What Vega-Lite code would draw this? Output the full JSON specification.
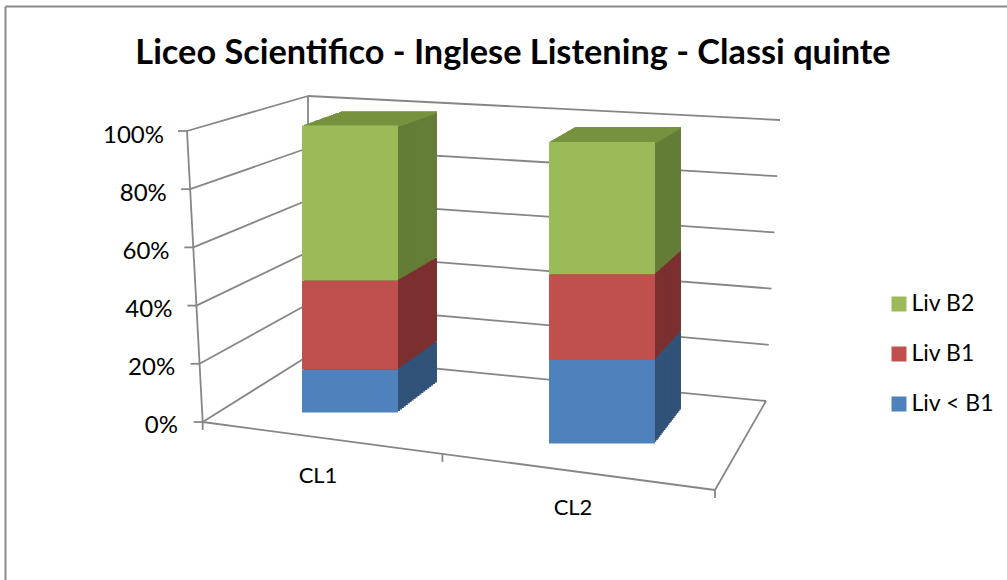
{"$schema":"https://vega.github.io/schema/vega-lite/v6.json","width":1002,"height":574,"padding":{"left":5.5,"top":6.5,"right":0,"bottom":0},"autosize":"none","background":"white","config":{"view":{"stroke":null},"font":"Lato"},
"title":{"text":"Liceo Scientifico - Inglese Listening - Classi quinte","font":"Lato","fontSize":34.3,"fontWeight":"bold","color":"#000000","anchor":"middle","dx":6.5,"offset":-65.5},
"datasets":{"valori":[{"classe":"CL1","livello":"Liv < B1","valore":15},{"classe":"CL1","livello":"Liv B1","valore":31},{"classe":"CL1","livello":"Liv B2","valore":54},{"classe":"CL2","livello":"Liv < B1","valore":27.7},{"classe":"CL2","livello":"Liv B1","valore":28.4},{"classe":"CL2","livello":"Liv B2","valore":43.9}],"griglia":[{"tick":0},{"tick":20},{"tick":40},{"tick":60},{"tick":80},{"tick":100}]},
"resolve":{"scale":{"x":"independent"}},
"layer":[
{"data":{"values":[{"p":1}]},"mark":{"type":"rule","color":"#8a8a8a","strokeWidth":2},"encoding":{"x":{"datum":0,"type":"quantitative","scale":{"domain":[0,1],"range":[0,1002]},"axis":null}}},
{"data":{"values":[{"p":1}]},"mark":{"type":"rule","color":"#8a8a8a","strokeWidth":2,"yOffset":-124.5,"y2Offset":-124.5},"encoding":{"x":{"datum":0,"type":"quantitative","scale":{"domain":[0,1],"range":[0,1002]},"axis":null},"x2":{"datum":1},"y":{"datum":100,"type":"quantitative","title":null,"scale":{"domain":[0,100],"range":[415.5,124.5]}},"y2":{"datum":100}}},
{"data":{"name":"griglia"},"mark":{"type":"rule","color":"#868686","strokeWidth":1.8,"xOffset":{"expr":"0.157*(100-datum.tick)"},"y2Offset":{"expr":"-35-0.31*(100-datum.tick)"}},"encoding":{"x":{"datum":0,"type":"quantitative","scale":{"domain":[0,1],"range":[181.5,302.5]},"axis":null},"x2":{"datum":1},"y":{"field":"tick","type":"quantitative","title":null,"scale":{"domain":[0,100],"range":[415.5,124.5]},"axis":{"title":null,"values":[0,20,40,60,80,100],"orient":"left","offset":-172,"domain":false,"ticks":false,"grid":false,"labelPadding":{"expr":"0.14*datum.value"},"labelOffset":{"expr":"3.5+0.01*datum.value"},"labelFont":"Lato","labelFontSize":24,"labelColor":"#000000","labelBaseline":"middle","labelExpr":"datum.value+'%'"}},"y2":{"field":"tick"}}},
{"data":{"name":"griglia"},"mark":{"type":"rule","color":"#868686","strokeWidth":1.8,"yOffset":{"expr":"-35-0.31*(100-datum.tick)"},"x2Offset":{"expr":"-0.14*(100-datum.tick)"},"y2Offset":{"expr":"-11-0.1*(100-datum.tick)"}},"encoding":{"x":{"datum":0,"type":"quantitative","scale":{"domain":[0,1],"range":[302.5,774.5]},"axis":null},"x2":{"datum":1},"y":{"field":"tick","type":"quantitative","title":null},"y2":{"field":"tick"}}},
{"data":{"name":"griglia"},"mark":{"type":"rule","color":"#868686","strokeWidth":1.8,"xOffset":{"expr":"0.157*(100-datum.tick)"},"x2Offset":{"expr":"0.157*(100-datum.tick)-9"}},"encoding":{"x":{"datum":0,"type":"quantitative","scale":{"domain":[0,1],"range":[181.5,302.5]},"axis":null},"x2":{"datum":0},"y":{"field":"tick","type":"quantitative","title":null},"y2":{"field":"tick"}}},
{"data":{"values":[{"p":1}]},"mark":{"type":"rule","color":"#868686","strokeWidth":1.8,"x2Offset":15.7},"encoding":{"x":{"datum":0,"type":"quantitative","scale":{"domain":[0,1],"range":[181.5,302.5]},"axis":null},"x2":{"datum":0},"y":{"datum":100,"type":"quantitative","title":null},"y2":{"datum":0}}},
{"data":{"values":[{"p":1}]},"mark":{"type":"rule","color":"#868686","strokeWidth":1.8,"yOffset":-35,"y2Offset":-66},"encoding":{"x":{"datum":0,"type":"quantitative","scale":{"domain":[0,1],"range":[302.5,774.5]},"axis":null},"x2":{"datum":0},"y":{"datum":100,"type":"quantitative","title":null},"y2":{"datum":0}}},
{"data":{"values":[{"p":1}]},"mark":{"type":"rule","color":"#868686","strokeWidth":1.8,"y2Offset":68},"encoding":{"x":{"datum":0,"type":"quantitative","scale":{"domain":[0,1],"range":[197.2,709.5]},"axis":null},"x2":{"datum":1},"y":{"datum":0,"type":"quantitative","title":null},"y2":{"datum":0}}},
{"data":{"values":[{"p":1}]},"mark":{"type":"rule","color":"#868686","strokeWidth":1.8,"yOffset":68,"y2Offset":-21},"encoding":{"x":{"datum":0,"type":"quantitative","scale":{"domain":[0,1],"range":[709.5,760.5]},"axis":null},"x2":{"datum":1},"y":{"datum":0,"type":"quantitative","title":null},"y2":{"datum":0}}},
{"data":{"values":[{"p":0},{"p":0.468},{"p":1}]},"mark":{"type":"rule","color":"#868686","strokeWidth":1.8,"yOffset":{"expr":"68*datum.p"},"y2Offset":{"expr":"68*datum.p+8"}},"encoding":{"x":{"field":"p","type":"quantitative","scale":{"domain":[0,1],"range":[197.2,709.5]},"axis":null},"x2":{"field":"p"},"y":{"datum":0,"type":"quantitative","title":null},"y2":{"datum":0}}},
{"data":{"name":"valori"},"transform":[{"stack":"valore","groupby":["classe"],"sort":[{"field":"livello","order":"ascending"}],"as":["y0","y1"]}],
"encoding":{"x":{"field":"classe","type":"nominal","scale":{"domain":["CL1","CL2"],"range":[218.5,722.5]},"axis":null},"size":{"field":"classe","type":"ordinal","scale":{"domain":["CL1","CL2"],"range":[96,106]},"legend":null},"y":{"field":"y1","type":"quantitative","title":null},"y2":{"field":"y0"},"fill":{"field":"livello","type":"nominal","scale":{"domain":["Liv < B1","Liv B1","Liv B2"],"range":["#315379","#7b302f","#647d37"]},"legend":null}},
"layer":[
{"mark":{"type":"bar","xOffset":{"expr":"1*(datum.classe=='CL1'?39:26)"},"yOffset":{"expr":"datum.classe=='CL1'?-9.5+0.04*datum.y1-1*(30-0.16*datum.y1):21.5-0.105*datum.y1-1*(34-0.19*datum.y1)"},"y2Offset":{"expr":"datum.classe=='CL1'?-9.5+0.04*datum.y0-1*(30-0.16*datum.y0):21.5-0.105*datum.y0-1*(34-0.19*datum.y0)"}}},
{"mark":{"type":"bar","xOffset":{"expr":"0.95*(datum.classe=='CL1'?39:26)"},"yOffset":{"expr":"datum.classe=='CL1'?-9.5+0.04*datum.y1-0.95*(30-0.16*datum.y1):21.5-0.105*datum.y1-0.95*(34-0.19*datum.y1)"},"y2Offset":{"expr":"datum.classe=='CL1'?-9.5+0.04*datum.y0-0.95*(30-0.16*datum.y0):21.5-0.105*datum.y0-0.95*(34-0.19*datum.y0)"}}},
{"mark":{"type":"bar","xOffset":{"expr":"0.9*(datum.classe=='CL1'?39:26)"},"yOffset":{"expr":"datum.classe=='CL1'?-9.5+0.04*datum.y1-0.9*(30-0.16*datum.y1):21.5-0.105*datum.y1-0.9*(34-0.19*datum.y1)"},"y2Offset":{"expr":"datum.classe=='CL1'?-9.5+0.04*datum.y0-0.9*(30-0.16*datum.y0):21.5-0.105*datum.y0-0.9*(34-0.19*datum.y0)"}}},
{"mark":{"type":"bar","xOffset":{"expr":"0.85*(datum.classe=='CL1'?39:26)"},"yOffset":{"expr":"datum.classe=='CL1'?-9.5+0.04*datum.y1-0.85*(30-0.16*datum.y1):21.5-0.105*datum.y1-0.85*(34-0.19*datum.y1)"},"y2Offset":{"expr":"datum.classe=='CL1'?-9.5+0.04*datum.y0-0.85*(30-0.16*datum.y0):21.5-0.105*datum.y0-0.85*(34-0.19*datum.y0)"}}},
{"mark":{"type":"bar","xOffset":{"expr":"0.8*(datum.classe=='CL1'?39:26)"},"yOffset":{"expr":"datum.classe=='CL1'?-9.5+0.04*datum.y1-0.8*(30-0.16*datum.y1):21.5-0.105*datum.y1-0.8*(34-0.19*datum.y1)"},"y2Offset":{"expr":"datum.classe=='CL1'?-9.5+0.04*datum.y0-0.8*(30-0.16*datum.y0):21.5-0.105*datum.y0-0.8*(34-0.19*datum.y0)"}}},
{"mark":{"type":"bar","xOffset":{"expr":"0.75*(datum.classe=='CL1'?39:26)"},"yOffset":{"expr":"datum.classe=='CL1'?-9.5+0.04*datum.y1-0.75*(30-0.16*datum.y1):21.5-0.105*datum.y1-0.75*(34-0.19*datum.y1)"},"y2Offset":{"expr":"datum.classe=='CL1'?-9.5+0.04*datum.y0-0.75*(30-0.16*datum.y0):21.5-0.105*datum.y0-0.75*(34-0.19*datum.y0)"}}},
{"mark":{"type":"bar","xOffset":{"expr":"0.7*(datum.classe=='CL1'?39:26)"},"yOffset":{"expr":"datum.classe=='CL1'?-9.5+0.04*datum.y1-0.7*(30-0.16*datum.y1):21.5-0.105*datum.y1-0.7*(34-0.19*datum.y1)"},"y2Offset":{"expr":"datum.classe=='CL1'?-9.5+0.04*datum.y0-0.7*(30-0.16*datum.y0):21.5-0.105*datum.y0-0.7*(34-0.19*datum.y0)"}}},
{"mark":{"type":"bar","xOffset":{"expr":"0.65*(datum.classe=='CL1'?39:26)"},"yOffset":{"expr":"datum.classe=='CL1'?-9.5+0.04*datum.y1-0.65*(30-0.16*datum.y1):21.5-0.105*datum.y1-0.65*(34-0.19*datum.y1)"},"y2Offset":{"expr":"datum.classe=='CL1'?-9.5+0.04*datum.y0-0.65*(30-0.16*datum.y0):21.5-0.105*datum.y0-0.65*(34-0.19*datum.y0)"}}},
{"mark":{"type":"bar","xOffset":{"expr":"0.6*(datum.classe=='CL1'?39:26)"},"yOffset":{"expr":"datum.classe=='CL1'?-9.5+0.04*datum.y1-0.6*(30-0.16*datum.y1):21.5-0.105*datum.y1-0.6*(34-0.19*datum.y1)"},"y2Offset":{"expr":"datum.classe=='CL1'?-9.5+0.04*datum.y0-0.6*(30-0.16*datum.y0):21.5-0.105*datum.y0-0.6*(34-0.19*datum.y0)"}}},
{"mark":{"type":"bar","xOffset":{"expr":"0.55*(datum.classe=='CL1'?39:26)"},"yOffset":{"expr":"datum.classe=='CL1'?-9.5+0.04*datum.y1-0.55*(30-0.16*datum.y1):21.5-0.105*datum.y1-0.55*(34-0.19*datum.y1)"},"y2Offset":{"expr":"datum.classe=='CL1'?-9.5+0.04*datum.y0-0.55*(30-0.16*datum.y0):21.5-0.105*datum.y0-0.55*(34-0.19*datum.y0)"}}},
{"mark":{"type":"bar","xOffset":{"expr":"0.5*(datum.classe=='CL1'?39:26)"},"yOffset":{"expr":"datum.classe=='CL1'?-9.5+0.04*datum.y1-0.5*(30-0.16*datum.y1):21.5-0.105*datum.y1-0.5*(34-0.19*datum.y1)"},"y2Offset":{"expr":"datum.classe=='CL1'?-9.5+0.04*datum.y0-0.5*(30-0.16*datum.y0):21.5-0.105*datum.y0-0.5*(34-0.19*datum.y0)"}}},
{"mark":{"type":"bar","xOffset":{"expr":"0.45*(datum.classe=='CL1'?39:26)"},"yOffset":{"expr":"datum.classe=='CL1'?-9.5+0.04*datum.y1-0.45*(30-0.16*datum.y1):21.5-0.105*datum.y1-0.45*(34-0.19*datum.y1)"},"y2Offset":{"expr":"datum.classe=='CL1'?-9.5+0.04*datum.y0-0.45*(30-0.16*datum.y0):21.5-0.105*datum.y0-0.45*(34-0.19*datum.y0)"}}},
{"mark":{"type":"bar","xOffset":{"expr":"0.4*(datum.classe=='CL1'?39:26)"},"yOffset":{"expr":"datum.classe=='CL1'?-9.5+0.04*datum.y1-0.4*(30-0.16*datum.y1):21.5-0.105*datum.y1-0.4*(34-0.19*datum.y1)"},"y2Offset":{"expr":"datum.classe=='CL1'?-9.5+0.04*datum.y0-0.4*(30-0.16*datum.y0):21.5-0.105*datum.y0-0.4*(34-0.19*datum.y0)"}}},
{"mark":{"type":"bar","xOffset":{"expr":"0.35*(datum.classe=='CL1'?39:26)"},"yOffset":{"expr":"datum.classe=='CL1'?-9.5+0.04*datum.y1-0.35*(30-0.16*datum.y1):21.5-0.105*datum.y1-0.35*(34-0.19*datum.y1)"},"y2Offset":{"expr":"datum.classe=='CL1'?-9.5+0.04*datum.y0-0.35*(30-0.16*datum.y0):21.5-0.105*datum.y0-0.35*(34-0.19*datum.y0)"}}},
{"mark":{"type":"bar","xOffset":{"expr":"0.3*(datum.classe=='CL1'?39:26)"},"yOffset":{"expr":"datum.classe=='CL1'?-9.5+0.04*datum.y1-0.3*(30-0.16*datum.y1):21.5-0.105*datum.y1-0.3*(34-0.19*datum.y1)"},"y2Offset":{"expr":"datum.classe=='CL1'?-9.5+0.04*datum.y0-0.3*(30-0.16*datum.y0):21.5-0.105*datum.y0-0.3*(34-0.19*datum.y0)"}}},
{"mark":{"type":"bar","xOffset":{"expr":"0.25*(datum.classe=='CL1'?39:26)"},"yOffset":{"expr":"datum.classe=='CL1'?-9.5+0.04*datum.y1-0.25*(30-0.16*datum.y1):21.5-0.105*datum.y1-0.25*(34-0.19*datum.y1)"},"y2Offset":{"expr":"datum.classe=='CL1'?-9.5+0.04*datum.y0-0.25*(30-0.16*datum.y0):21.5-0.105*datum.y0-0.25*(34-0.19*datum.y0)"}}},
{"mark":{"type":"bar","xOffset":{"expr":"0.2*(datum.classe=='CL1'?39:26)"},"yOffset":{"expr":"datum.classe=='CL1'?-9.5+0.04*datum.y1-0.2*(30-0.16*datum.y1):21.5-0.105*datum.y1-0.2*(34-0.19*datum.y1)"},"y2Offset":{"expr":"datum.classe=='CL1'?-9.5+0.04*datum.y0-0.2*(30-0.16*datum.y0):21.5-0.105*datum.y0-0.2*(34-0.19*datum.y0)"}}},
{"mark":{"type":"bar","xOffset":{"expr":"0.15*(datum.classe=='CL1'?39:26)"},"yOffset":{"expr":"datum.classe=='CL1'?-9.5+0.04*datum.y1-0.15*(30-0.16*datum.y1):21.5-0.105*datum.y1-0.15*(34-0.19*datum.y1)"},"y2Offset":{"expr":"datum.classe=='CL1'?-9.5+0.04*datum.y0-0.15*(30-0.16*datum.y0):21.5-0.105*datum.y0-0.15*(34-0.19*datum.y0)"}}},
{"mark":{"type":"bar","xOffset":{"expr":"0.1*(datum.classe=='CL1'?39:26)"},"yOffset":{"expr":"datum.classe=='CL1'?-9.5+0.04*datum.y1-0.1*(30-0.16*datum.y1):21.5-0.105*datum.y1-0.1*(34-0.19*datum.y1)"},"y2Offset":{"expr":"datum.classe=='CL1'?-9.5+0.04*datum.y0-0.1*(30-0.16*datum.y0):21.5-0.105*datum.y0-0.1*(34-0.19*datum.y0)"}}},
{"mark":{"type":"bar","xOffset":{"expr":"0.05*(datum.classe=='CL1'?39:26)"},"yOffset":{"expr":"datum.classe=='CL1'?-9.5+0.04*datum.y1-0.05*(30-0.16*datum.y1):21.5-0.105*datum.y1-0.05*(34-0.19*datum.y1)"},"y2Offset":{"expr":"datum.classe=='CL1'?-9.5+0.04*datum.y0-0.05*(30-0.16*datum.y0):21.5-0.105*datum.y0-0.05*(34-0.19*datum.y0)"}}}
]},
{"data":{"name":"valori"},"transform":[{"filter":"datum.livello=='Liv B2'"}],
"encoding":{"x":{"field":"classe","type":"nominal","scale":{"domain":["CL1","CL2"],"range":[218.5,722.5]},"axis":null},"size":{"field":"classe","type":"ordinal","scale":{"domain":["CL1","CL2"],"range":[96,106]},"legend":null},"y":{"datum":100,"type":"quantitative","title":null},"y2":{"datum":100}},
"layer":[
{"mark":{"type":"bar","color":"#76923e","xOffset":{"expr":"1*(datum.classe=='CL1'?39:26)"},"yOffset":{"expr":"datum.classe=='CL1'?-5.5-14*1:11-15*1"},"y2Offset":{"expr":"(datum.classe=='CL1'?-5.5-14*1:11-15*1)+2"}}},
{"mark":{"type":"bar","color":"#76923e","xOffset":{"expr":"0.95*(datum.classe=='CL1'?39:26)"},"yOffset":{"expr":"datum.classe=='CL1'?-5.5-14*0.95:11-15*0.95"},"y2Offset":{"expr":"(datum.classe=='CL1'?-5.5-14*0.95:11-15*0.95)+2"}}},
{"mark":{"type":"bar","color":"#76923e","xOffset":{"expr":"0.9*(datum.classe=='CL1'?39:26)"},"yOffset":{"expr":"datum.classe=='CL1'?-5.5-14*0.9:11-15*0.9"},"y2Offset":{"expr":"(datum.classe=='CL1'?-5.5-14*0.9:11-15*0.9)+2"}}},
{"mark":{"type":"bar","color":"#76923e","xOffset":{"expr":"0.85*(datum.classe=='CL1'?39:26)"},"yOffset":{"expr":"datum.classe=='CL1'?-5.5-14*0.85:11-15*0.85"},"y2Offset":{"expr":"(datum.classe=='CL1'?-5.5-14*0.85:11-15*0.85)+2"}}},
{"mark":{"type":"bar","color":"#76923e","xOffset":{"expr":"0.8*(datum.classe=='CL1'?39:26)"},"yOffset":{"expr":"datum.classe=='CL1'?-5.5-14*0.8:11-15*0.8"},"y2Offset":{"expr":"(datum.classe=='CL1'?-5.5-14*0.8:11-15*0.8)+2"}}},
{"mark":{"type":"bar","color":"#76923e","xOffset":{"expr":"0.75*(datum.classe=='CL1'?39:26)"},"yOffset":{"expr":"datum.classe=='CL1'?-5.5-14*0.75:11-15*0.75"},"y2Offset":{"expr":"(datum.classe=='CL1'?-5.5-14*0.75:11-15*0.75)+2"}}},
{"mark":{"type":"bar","color":"#76923e","xOffset":{"expr":"0.7*(datum.classe=='CL1'?39:26)"},"yOffset":{"expr":"datum.classe=='CL1'?-5.5-14*0.7:11-15*0.7"},"y2Offset":{"expr":"(datum.classe=='CL1'?-5.5-14*0.7:11-15*0.7)+2"}}},
{"mark":{"type":"bar","color":"#76923e","xOffset":{"expr":"0.65*(datum.classe=='CL1'?39:26)"},"yOffset":{"expr":"datum.classe=='CL1'?-5.5-14*0.65:11-15*0.65"},"y2Offset":{"expr":"(datum.classe=='CL1'?-5.5-14*0.65:11-15*0.65)+2"}}},
{"mark":{"type":"bar","color":"#76923e","xOffset":{"expr":"0.6*(datum.classe=='CL1'?39:26)"},"yOffset":{"expr":"datum.classe=='CL1'?-5.5-14*0.6:11-15*0.6"},"y2Offset":{"expr":"(datum.classe=='CL1'?-5.5-14*0.6:11-15*0.6)+2"}}},
{"mark":{"type":"bar","color":"#76923e","xOffset":{"expr":"0.55*(datum.classe=='CL1'?39:26)"},"yOffset":{"expr":"datum.classe=='CL1'?-5.5-14*0.55:11-15*0.55"},"y2Offset":{"expr":"(datum.classe=='CL1'?-5.5-14*0.55:11-15*0.55)+2"}}},
{"mark":{"type":"bar","color":"#76923e","xOffset":{"expr":"0.5*(datum.classe=='CL1'?39:26)"},"yOffset":{"expr":"datum.classe=='CL1'?-5.5-14*0.5:11-15*0.5"},"y2Offset":{"expr":"(datum.classe=='CL1'?-5.5-14*0.5:11-15*0.5)+2"}}},
{"mark":{"type":"bar","color":"#76923e","xOffset":{"expr":"0.45*(datum.classe=='CL1'?39:26)"},"yOffset":{"expr":"datum.classe=='CL1'?-5.5-14*0.45:11-15*0.45"},"y2Offset":{"expr":"(datum.classe=='CL1'?-5.5-14*0.45:11-15*0.45)+2"}}},
{"mark":{"type":"bar","color":"#76923e","xOffset":{"expr":"0.4*(datum.classe=='CL1'?39:26)"},"yOffset":{"expr":"datum.classe=='CL1'?-5.5-14*0.4:11-15*0.4"},"y2Offset":{"expr":"(datum.classe=='CL1'?-5.5-14*0.4:11-15*0.4)+2"}}},
{"mark":{"type":"bar","color":"#76923e","xOffset":{"expr":"0.35*(datum.classe=='CL1'?39:26)"},"yOffset":{"expr":"datum.classe=='CL1'?-5.5-14*0.35:11-15*0.35"},"y2Offset":{"expr":"(datum.classe=='CL1'?-5.5-14*0.35:11-15*0.35)+2"}}},
{"mark":{"type":"bar","color":"#76923e","xOffset":{"expr":"0.3*(datum.classe=='CL1'?39:26)"},"yOffset":{"expr":"datum.classe=='CL1'?-5.5-14*0.3:11-15*0.3"},"y2Offset":{"expr":"(datum.classe=='CL1'?-5.5-14*0.3:11-15*0.3)+2"}}},
{"mark":{"type":"bar","color":"#76923e","xOffset":{"expr":"0.25*(datum.classe=='CL1'?39:26)"},"yOffset":{"expr":"datum.classe=='CL1'?-5.5-14*0.25:11-15*0.25"},"y2Offset":{"expr":"(datum.classe=='CL1'?-5.5-14*0.25:11-15*0.25)+2"}}},
{"mark":{"type":"bar","color":"#76923e","xOffset":{"expr":"0.2*(datum.classe=='CL1'?39:26)"},"yOffset":{"expr":"datum.classe=='CL1'?-5.5-14*0.2:11-15*0.2"},"y2Offset":{"expr":"(datum.classe=='CL1'?-5.5-14*0.2:11-15*0.2)+2"}}},
{"mark":{"type":"bar","color":"#76923e","xOffset":{"expr":"0.15*(datum.classe=='CL1'?39:26)"},"yOffset":{"expr":"datum.classe=='CL1'?-5.5-14*0.15:11-15*0.15"},"y2Offset":{"expr":"(datum.classe=='CL1'?-5.5-14*0.15:11-15*0.15)+2"}}},
{"mark":{"type":"bar","color":"#76923e","xOffset":{"expr":"0.1*(datum.classe=='CL1'?39:26)"},"yOffset":{"expr":"datum.classe=='CL1'?-5.5-14*0.1:11-15*0.1"},"y2Offset":{"expr":"(datum.classe=='CL1'?-5.5-14*0.1:11-15*0.1)+2"}}},
{"mark":{"type":"bar","color":"#76923e","xOffset":{"expr":"0.05*(datum.classe=='CL1'?39:26)"},"yOffset":{"expr":"datum.classe=='CL1'?-5.5-14*0.05:11-15*0.05"},"y2Offset":{"expr":"(datum.classe=='CL1'?-5.5-14*0.05:11-15*0.05)+2"}}}
]},
{"data":{"name":"valori"},"transform":[{"stack":"valore","groupby":["classe"],"sort":[{"field":"livello","order":"ascending"}],"as":["y0","y1"]}],
"mark":{"type":"bar","yOffset":{"expr":"datum.classe=='CL1'?-9.5+0.04*datum.y1:21.5-0.105*datum.y1"},"y2Offset":{"expr":"datum.classe=='CL1'?-9.5+0.04*datum.y0:21.5-0.105*datum.y0"}},
"encoding":{"x":{"field":"classe","type":"nominal","scale":{"domain":["CL1","CL2"],"range":[218.5,722.5]},"axis":{"title":null,"orient":"bottom","offset":-105.5,"domain":false,"ticks":false,"grid":false,"labelAngle":0,"labelPadding":{"expr":"datum.value=='CL1'?0:32"},"labelOffset":{"expr":"datum.value=='CL1'?-32:-29"},"labelFont":"Lato","labelFontSize":22,"labelColor":"#000000","labelBaseline":"middle"}},"size":{"field":"classe","type":"ordinal","scale":{"domain":["CL1","CL2"],"range":[96,106]},"legend":null},"y":{"field":"y1","type":"quantitative","title":null},"y2":{"field":"y0"},"color":{"field":"livello","type":"nominal","scale":{"domain":["Liv B2","Liv B1","Liv < B1"],"range":["#9bbb59","#c0504d","#4f81bd"]},"legend":{"title":null,"orient":"none","legendX":882,"legendY":286,"padding":0,"symbolType":"square","symbolSize":225,"symbolStrokeWidth":0,"labelFont":"Lato","labelFontSize":23,"labelColor":"#000000","labelOffset":1,"rowPadding":26}}}}
]}
